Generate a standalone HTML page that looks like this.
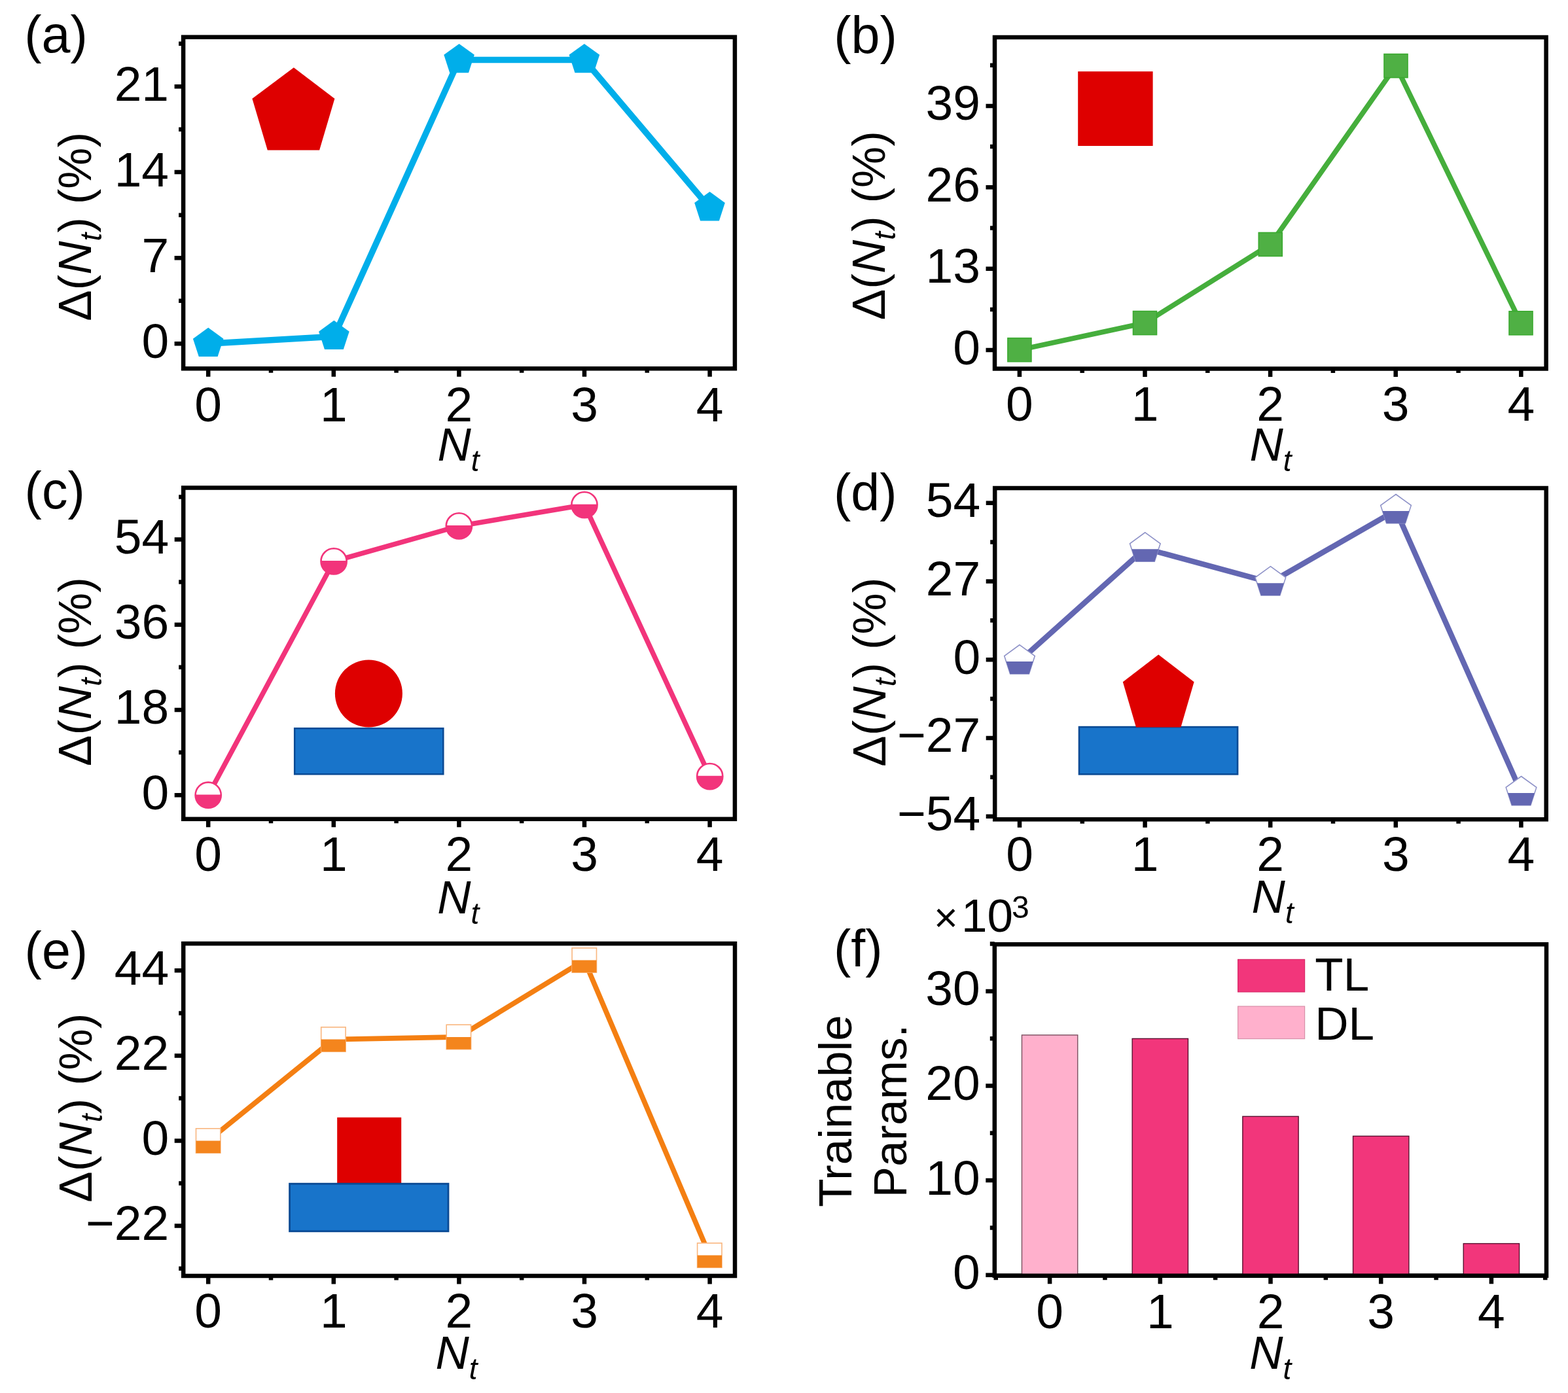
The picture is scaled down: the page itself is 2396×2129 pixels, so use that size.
<!DOCTYPE html>
<html><head><meta charset="utf-8"><title>Figure</title>
<style>html,body{margin:0;padding:0;background:#fff;}svg{display:block;}</style>
</head><body>
<svg width="2396" height="2129" viewBox="0 0 2396 2129"><rect width="2396" height="2129" fill="#fff"/>
<g font-family="'Liberation Sans', Arial, sans-serif" fill="#000">
<rect x="280.1" y="56.7" width="842.8" height="506.6" fill="none" stroke="#000" stroke-width="6.5"/>
<text x="258.1" y="153.7" font-size="75" text-anchor="end">21</text>
<text x="258.1" y="284.6" font-size="75" text-anchor="end">14</text>
<text x="258.1" y="415.7" font-size="75" text-anchor="end">7</text>
<text x="258.1" y="546.8" font-size="75" text-anchor="end">0</text>
<path d="M266.6,132.2H280.1 M266.6,263.1H280.1 M266.6,394.2H280.1 M266.6,525.3H280.1 M273.1,459.75H280.1 M273.1,328.65H280.1 M273.1,197.65H280.1 M273.1,66.69H280.1" stroke="#000" stroke-width="6.5" fill="none"/>
<text x="318.2" y="643.6" font-size="75" text-anchor="middle">0</text>
<text x="509.8" y="643.6" font-size="75" text-anchor="middle">1</text>
<text x="701.4" y="643.6" font-size="75" text-anchor="middle">2</text>
<text x="893" y="643.6" font-size="75" text-anchor="middle">3</text>
<text x="1084.6" y="643.6" font-size="75" text-anchor="middle">4</text>
<path d="M318.2,563.3V575.8 M509.8,563.3V575.8 M701.4,563.3V575.8 M893,563.3V575.8 M1084.6,563.3V575.8 M414,563.3V569.8 M605.6,563.3V569.8 M797.2,563.3V569.8 M988.8,563.3V569.8" stroke="#000" stroke-width="6.5" fill="none"/>
<text x="668.4" y="703.9" font-size="71" font-style="italic">N<tspan font-size="46" dy="16">t</tspan></text>
<text transform="translate(138.9,490.83) rotate(-90)" font-size="71">&#916;(<tspan font-style="italic">N</tspan><tspan font-style="italic" font-size="46" dy="16">t</tspan><tspan dy="-16">) (%)</tspan></text>
<text x="37.2" y="80.2" font-size="79" text-anchor="start">(a)</text>
<polygon points="448.9,103.2 511.4,150.8 488.1,229.6 408.8,229.6 385.4,150.8" fill="#DE0000"/>
<polyline points="318.2,525.3 510.4,514.3 701.6,91.4 892.9,91.4 1084.5,317.6" fill="none" stroke="#00AEEA" stroke-width="9.5" stroke-linejoin="miter"/>
<polygon points="318.2,500.8 341.5,517.73 332.6,545.12 303.8,545.12 294.9,517.73" fill="#00AEEA"/>
<polygon points="510.4,489.8 533.7,506.73 524.8,534.12 496,534.12 487.1,506.73" fill="#00AEEA"/>
<polygon points="701.6,66.9 724.9,83.83 716,111.22 687.2,111.22 678.3,83.83" fill="#00AEEA"/>
<polygon points="892.9,66.9 916.2,83.83 907.3,111.22 878.5,111.22 869.6,83.83" fill="#00AEEA"/>
<polygon points="1084.5,293.1 1107.8,310.03 1098.9,337.42 1070.1,337.42 1061.2,310.03" fill="#00AEEA"/>
<rect x="1520" y="57" width="842.6" height="506.5" fill="none" stroke="#000" stroke-width="6.5"/>
<text x="1498" y="183.4" font-size="75" text-anchor="end">39</text>
<text x="1498" y="307.8" font-size="75" text-anchor="end">26</text>
<text x="1498" y="432.2" font-size="75" text-anchor="end">13</text>
<text x="1498" y="556.6" font-size="75" text-anchor="end">0</text>
<path d="M1506.5,161.9H1520 M1506.5,286.3H1520 M1506.5,410.7H1520 M1506.5,535.1H1520 M1513,99.7H1520 M1513,224.1H1520 M1513,348.5H1520 M1513,472.9H1520" stroke="#000" stroke-width="6.5" fill="none"/>
<text x="1557.9" y="642.7" font-size="75" text-anchor="middle">0</text>
<text x="1749.5" y="642.7" font-size="75" text-anchor="middle">1</text>
<text x="1941.1" y="642.7" font-size="75" text-anchor="middle">2</text>
<text x="2132.7" y="642.7" font-size="75" text-anchor="middle">3</text>
<text x="2324.3" y="642.7" font-size="75" text-anchor="middle">4</text>
<path d="M1557.9,563.5V576 M1749.5,563.5V576 M1941.1,563.5V576 M2132.7,563.5V576 M2324.3,563.5V576 M1653.7,563.5V570 M1845.3,563.5V570 M2036.9,563.5V570 M2228.5,563.5V570" stroke="#000" stroke-width="6.5" fill="none"/>
<text x="1909.5" y="703.5" font-size="71" font-style="italic">N<tspan font-size="46" dy="16">t</tspan></text>
<text transform="translate(1351.8,489.13) rotate(-90)" font-size="71">&#916;(<tspan font-style="italic">N</tspan><tspan font-style="italic" font-size="46" dy="16">t</tspan><tspan dy="-16">) (%)</tspan></text>
<text x="1274.3" y="80.6" font-size="79" text-anchor="start">(b)</text>
<rect x="1647.2" y="109.2" width="114.4" height="113.8" fill="#DE0000"/>
<polyline points="1557.9,534.7 1749.5,493.6 1941.3,373.5 2133,100.6 2324,493.8" fill="none" stroke="#45AE3C" stroke-width="7.8" stroke-linejoin="miter"/>
<rect x="1539.9" y="516.7" width="36" height="36" fill="#4FB044" stroke="#3BAA30" stroke-width="1.6"/>
<rect x="1731.5" y="475.6" width="36" height="36" fill="#4FB044" stroke="#3BAA30" stroke-width="1.6"/>
<rect x="1923.3" y="355.5" width="36" height="36" fill="#4FB044" stroke="#3BAA30" stroke-width="1.6"/>
<rect x="2115" y="82.6" width="36" height="36" fill="#4FB044" stroke="#3BAA30" stroke-width="1.6"/>
<rect x="2306" y="475.8" width="36" height="36" fill="#4FB044" stroke="#3BAA30" stroke-width="1.6"/>
<rect x="280.2" y="745.5" width="842.7" height="506.3" fill="none" stroke="#000" stroke-width="6.5"/>
<text x="258.2" y="846" font-size="75" text-anchor="end">54</text>
<text x="258.2" y="976.2" font-size="75" text-anchor="end">36</text>
<text x="258.2" y="1106.4" font-size="75" text-anchor="end">18</text>
<text x="258.2" y="1236.7" font-size="75" text-anchor="end">0</text>
<path d="M266.7,824.5H280.2 M266.7,954.7H280.2 M266.7,1084.9H280.2 M266.7,1215.2H280.2 M273.2,759.4H280.2 M273.2,889.6H280.2 M273.2,1019.8H280.2 M273.2,1150.05H280.2" stroke="#000" stroke-width="6.5" fill="none"/>
<text x="318.2" y="1330.5" font-size="75" text-anchor="middle">0</text>
<text x="509.8" y="1330.5" font-size="75" text-anchor="middle">1</text>
<text x="701.4" y="1330.5" font-size="75" text-anchor="middle">2</text>
<text x="893" y="1330.5" font-size="75" text-anchor="middle">3</text>
<text x="1084.6" y="1330.5" font-size="75" text-anchor="middle">4</text>
<path d="M318.2,1251.8V1264.3 M509.8,1251.8V1264.3 M701.4,1251.8V1264.3 M893,1251.8V1264.3 M1084.6,1251.8V1264.3 M414,1251.8V1258.3 M605.6,1251.8V1258.3 M797.2,1251.8V1258.3 M988.8,1251.8V1258.3" stroke="#000" stroke-width="6.5" fill="none"/>
<text x="668.2" y="1395.7" font-size="71" font-style="italic">N<tspan font-size="46" dy="16">t</tspan></text>
<text transform="translate(139,1171.03) rotate(-90)" font-size="71">&#916;(<tspan font-style="italic">N</tspan><tspan font-style="italic" font-size="46" dy="16">t</tspan><tspan dy="-16">) (%)</tspan></text>
<text x="37.6" y="776.8" font-size="79" text-anchor="start">(c)</text>
<rect x="450.2" y="1113.2" width="227.1" height="70" fill="#1874CA" stroke="#0A4A94" stroke-width="2.5"/>
<circle cx="563.4" cy="1060" r="51.5" fill="#DE0000"/>
<polyline points="318.2,1215.2 510.1,857.9 701.4,803.9 893,771.6 1084.7,1186.6" fill="none" stroke="#F2347B" stroke-width="7.6" stroke-linejoin="miter"/>
<clipPath id="c64"><rect x="258.2" y="1214.4" width="120" height="60"/></clipPath>
<circle cx="318.2" cy="1215.2" r="19.6" fill="#fff" stroke="#F2347B" stroke-width="2.6"/>
<circle cx="318.2" cy="1215.2" r="19.6" fill="#F2347B" clip-path="url(#c64)"/>
<clipPath id="c67"><rect x="450.1" y="857.1" width="120" height="60"/></clipPath>
<circle cx="510.1" cy="857.9" r="19.6" fill="#fff" stroke="#F2347B" stroke-width="2.6"/>
<circle cx="510.1" cy="857.9" r="19.6" fill="#F2347B" clip-path="url(#c67)"/>
<clipPath id="c70"><rect x="641.4" y="803.1" width="120" height="60"/></clipPath>
<circle cx="701.4" cy="803.9" r="19.6" fill="#fff" stroke="#F2347B" stroke-width="2.6"/>
<circle cx="701.4" cy="803.9" r="19.6" fill="#F2347B" clip-path="url(#c70)"/>
<clipPath id="c73"><rect x="833" y="770.8" width="120" height="60"/></clipPath>
<circle cx="893" cy="771.6" r="19.6" fill="#fff" stroke="#F2347B" stroke-width="2.6"/>
<circle cx="893" cy="771.6" r="19.6" fill="#F2347B" clip-path="url(#c73)"/>
<clipPath id="c76"><rect x="1024.7" y="1185.8" width="120" height="60"/></clipPath>
<circle cx="1084.7" cy="1186.6" r="19.6" fill="#fff" stroke="#F2347B" stroke-width="2.6"/>
<circle cx="1084.7" cy="1186.6" r="19.6" fill="#F2347B" clip-path="url(#c76)"/>
<rect x="1520.2" y="746" width="842.5" height="506.3" fill="none" stroke="#000" stroke-width="6.5"/>
<text x="1498.2" y="790.2" font-size="75" text-anchor="end">54</text>
<text x="1498.2" y="909.9" font-size="75" text-anchor="end">27</text>
<text x="1498.2" y="1029.7" font-size="75" text-anchor="end">0</text>
<text x="1498.2" y="1149.4" font-size="75" text-anchor="end">&#8722;27</text>
<text x="1498.2" y="1269.2" font-size="75" text-anchor="end">&#8722;54</text>
<path d="M1506.7,768.7H1520.2 M1506.7,888.4H1520.2 M1506.7,1008.2H1520.2 M1506.7,1127.9H1520.2 M1506.7,1247.7H1520.2 M1513.2,828.55H1520.2 M1513.2,948.3H1520.2 M1513.2,1068.05H1520.2 M1513.2,1187.8H1520.2" stroke="#000" stroke-width="6.5" fill="none"/>
<text x="1558" y="1330.5" font-size="75" text-anchor="middle">0</text>
<text x="1749.6" y="1330.5" font-size="75" text-anchor="middle">1</text>
<text x="1941.2" y="1330.5" font-size="75" text-anchor="middle">2</text>
<text x="2132.8" y="1330.5" font-size="75" text-anchor="middle">3</text>
<text x="2324.4" y="1330.5" font-size="75" text-anchor="middle">4</text>
<path d="M1558,1252.3V1264.8 M1749.6,1252.3V1264.8 M1941.2,1252.3V1264.8 M2132.8,1252.3V1264.8 M2324.4,1252.3V1264.8 M1653.8,1252.3V1258.8 M1845.4,1252.3V1258.8 M2037,1252.3V1258.8 M2228.6,1252.3V1258.8" stroke="#000" stroke-width="6.5" fill="none"/>
<text x="1912.6" y="1394.8" font-size="71" font-style="italic">N<tspan font-size="46" dy="16">t</tspan></text>
<text transform="translate(1352.6,1171.63) rotate(-90)" font-size="71">&#916;(<tspan font-style="italic">N</tspan><tspan font-style="italic" font-size="46" dy="16">t</tspan><tspan dy="-16">) (%)</tspan></text>
<text x="1273.9" y="779.9" font-size="79" text-anchor="start">(d)</text>
<rect x="1649" y="1111.1" width="242.1" height="72.2" fill="#1874CA" stroke="#0A4A94" stroke-width="2.6"/>
<polygon points="1770.2,1000.5 1824.6,1042.3 1804.4,1111.5 1736,1111.5 1715.8,1042.3" fill="#DE0000"/>
<polyline points="1558,1010.1 1749.8,838.3 1941.4,890.2 2133,780 2324.5,1211" fill="none" stroke="#6367B2" stroke-width="8.4" stroke-linejoin="miter"/>
<clipPath id="c98"><rect x="1498" y="1011.1" width="120" height="60"/></clipPath>
<polygon points="1558,985.6 1581.3,1002.53 1572.4,1029.92 1543.6,1029.92 1534.7,1002.53" fill="#fff" stroke="#8E92C8" stroke-width="1.6"/>
<polygon points="1558,985.6 1581.3,1002.53 1572.4,1029.92 1543.6,1029.92 1534.7,1002.53" fill="#6367B2" clip-path="url(#c98)"/>
<clipPath id="c101"><rect x="1689.8" y="839.3" width="120" height="60"/></clipPath>
<polygon points="1749.8,813.8 1773.1,830.73 1764.2,858.12 1735.4,858.12 1726.5,830.73" fill="#fff" stroke="#8E92C8" stroke-width="1.6"/>
<polygon points="1749.8,813.8 1773.1,830.73 1764.2,858.12 1735.4,858.12 1726.5,830.73" fill="#6367B2" clip-path="url(#c101)"/>
<clipPath id="c104"><rect x="1881.4" y="891.2" width="120" height="60"/></clipPath>
<polygon points="1941.4,865.7 1964.7,882.63 1955.8,910.02 1927,910.02 1918.1,882.63" fill="#fff" stroke="#8E92C8" stroke-width="1.6"/>
<polygon points="1941.4,865.7 1964.7,882.63 1955.8,910.02 1927,910.02 1918.1,882.63" fill="#6367B2" clip-path="url(#c104)"/>
<clipPath id="c107"><rect x="2073" y="781" width="120" height="60"/></clipPath>
<polygon points="2133,755.5 2156.3,772.43 2147.4,799.82 2118.6,799.82 2109.7,772.43" fill="#fff" stroke="#8E92C8" stroke-width="1.6"/>
<polygon points="2133,755.5 2156.3,772.43 2147.4,799.82 2118.6,799.82 2109.7,772.43" fill="#6367B2" clip-path="url(#c107)"/>
<clipPath id="c110"><rect x="2264.5" y="1212" width="120" height="60"/></clipPath>
<polygon points="2324.5,1186.5 2347.8,1203.43 2338.9,1230.82 2310.1,1230.82 2301.2,1203.43" fill="#fff" stroke="#8E92C8" stroke-width="1.6"/>
<polygon points="2324.5,1186.5 2347.8,1203.43 2338.9,1230.82 2310.1,1230.82 2301.2,1203.43" fill="#6367B2" clip-path="url(#c110)"/>
<rect x="280.2" y="1442.1" width="842.8" height="507.9" fill="none" stroke="#000" stroke-width="6.5"/>
<text x="258.2" y="1504.8" font-size="75" text-anchor="end">44</text>
<text x="258.2" y="1635" font-size="75" text-anchor="end">22</text>
<text x="258.2" y="1764.9" font-size="75" text-anchor="end">0</text>
<text x="258.2" y="1895.1" font-size="75" text-anchor="end">&#8722;22</text>
<path d="M266.7,1483.3H280.2 M266.7,1613.5H280.2 M266.7,1743.4H280.2 M266.7,1873.6H280.2 M273.2,1548.4H280.2 M273.2,1678.45H280.2 M273.2,1808.5H280.2 M273.2,1938.7H280.2" stroke="#000" stroke-width="6.5" fill="none"/>
<text x="318.2" y="2028.9" font-size="75" text-anchor="middle">0</text>
<text x="509.8" y="2028.9" font-size="75" text-anchor="middle">1</text>
<text x="701.4" y="2028.9" font-size="75" text-anchor="middle">2</text>
<text x="893" y="2028.9" font-size="75" text-anchor="middle">3</text>
<text x="1084.6" y="2028.9" font-size="75" text-anchor="middle">4</text>
<path d="M318.2,1950V1962.5 M509.8,1950V1962.5 M701.4,1950V1962.5 M893,1950V1962.5 M1084.6,1950V1962.5 M414,1950V1956.5 M605.6,1950V1956.5 M797.2,1950V1956.5 M988.8,1950V1956.5" stroke="#000" stroke-width="6.5" fill="none"/>
<text x="665.4" y="2091.9" font-size="71" font-style="italic">N<tspan font-size="46" dy="16">t</tspan></text>
<text transform="translate(139.8,1837.63) rotate(-90)" font-size="71">&#916;(<tspan font-style="italic">N</tspan><tspan font-style="italic" font-size="46" dy="16">t</tspan><tspan dy="-16">) (%)</tspan></text>
<text x="37.6" y="1479.5" font-size="79" text-anchor="start">(e)</text>
<rect x="515.2" y="1707.8" width="98" height="101" fill="#DE0000"/>
<rect x="442.6" y="1809.2" width="242.4" height="72.6" fill="#1874CA" stroke="#0A4A94" stroke-width="2.8"/>
<polyline points="318.2,1743.5 509.4,1588.6 700.9,1584.9 892.8,1467.6 1084.3,1918.6" fill="none" stroke="#F47F12" stroke-width="7.8" stroke-linejoin="miter"/>
<clipPath id="c131"><rect x="258.2" y="1743.5" width="120" height="60"/></clipPath>
<rect x="299.5" y="1724.8" width="37.4" height="37.4" fill="#fff" stroke="#F9B67E" stroke-width="1.6"/>
<rect x="299.5" y="1724.8" width="37.4" height="37.4" fill="#F4851D" clip-path="url(#c131)"/>
<clipPath id="c134"><rect x="449.4" y="1588.6" width="120" height="60"/></clipPath>
<rect x="490.7" y="1569.9" width="37.4" height="37.4" fill="#fff" stroke="#F9B67E" stroke-width="1.6"/>
<rect x="490.7" y="1569.9" width="37.4" height="37.4" fill="#F4851D" clip-path="url(#c134)"/>
<clipPath id="c137"><rect x="640.9" y="1584.9" width="120" height="60"/></clipPath>
<rect x="682.2" y="1566.2" width="37.4" height="37.4" fill="#fff" stroke="#F9B67E" stroke-width="1.6"/>
<rect x="682.2" y="1566.2" width="37.4" height="37.4" fill="#F4851D" clip-path="url(#c137)"/>
<clipPath id="c140"><rect x="832.8" y="1467.6" width="120" height="60"/></clipPath>
<rect x="874.1" y="1448.9" width="37.4" height="37.4" fill="#fff" stroke="#F9B67E" stroke-width="1.6"/>
<rect x="874.1" y="1448.9" width="37.4" height="37.4" fill="#F4851D" clip-path="url(#c140)"/>
<clipPath id="c143"><rect x="1024.3" y="1918.6" width="120" height="60"/></clipPath>
<rect x="1065.6" y="1899.9" width="37.4" height="37.4" fill="#fff" stroke="#F9B67E" stroke-width="1.6"/>
<rect x="1065.6" y="1899.9" width="37.4" height="37.4" fill="#F4851D" clip-path="url(#c143)"/>
<rect x="1519.8" y="1443.3" width="843.2" height="506.5" fill="none" stroke="#000" stroke-width="6.5"/>
<text x="1497.8" y="1536.4" font-size="75" text-anchor="end">30</text>
<text x="1497.8" y="1681" font-size="75" text-anchor="end">20</text>
<text x="1497.8" y="1825.6" font-size="75" text-anchor="end">10</text>
<text x="1497.8" y="1970.3" font-size="75" text-anchor="end">0</text>
<path d="M1506.3,1514.9H1519.8 M1506.3,1659.5H1519.8 M1506.3,1804.1H1519.8 M1506.3,1948.8H1519.8 M1512.8,1442.6H1519.8 M1512.8,1587.2H1519.8 M1512.8,1731.8H1519.8 M1512.8,1876.45H1519.8" stroke="#000" stroke-width="6.5" fill="none"/>
<text x="1604.1" y="2029.8" font-size="75" text-anchor="middle">0</text>
<text x="1772.8" y="2029.8" font-size="75" text-anchor="middle">1</text>
<text x="1941.5" y="2029.8" font-size="75" text-anchor="middle">2</text>
<text x="2110.2" y="2029.8" font-size="75" text-anchor="middle">3</text>
<text x="2278.9" y="2029.8" font-size="75" text-anchor="middle">4</text>
<path d="M1604.1,1949.8V1962.3 M1772.8,1949.8V1962.3 M1941.5,1949.8V1962.3 M2110.2,1949.8V1962.3 M2278.9,1949.8V1962.3 M1521.75,1949.8V1956.3 M1688.45,1949.8V1956.3 M1857.15,1949.8V1956.3 M2025.85,1949.8V1956.3 M2194.55,1949.8V1956.3 M2361.25,1949.8V1956.3" stroke="#000" stroke-width="6.5" fill="none"/>
<text x="1909.3" y="2091.9" font-size="71" font-style="italic">N<tspan font-size="46" dy="16">t</tspan></text>
<text x="1273.9" y="1477.2" font-size="79" text-anchor="start">(f)</text>
<text transform="translate(1300.8,1698) rotate(-90)" font-size="71" text-anchor="middle">Trainable</text>
<text transform="translate(1384.5,1698) rotate(-90)" font-size="71" text-anchor="middle">Params.</text>
<text x="1426.9" y="1424.2" font-size="63" text-anchor="start">&#215;</text>
<text x="1469" y="1423.5" font-size="71" text-anchor="start">10</text>
<text x="1546" y="1402.5" font-size="48" text-anchor="start">3</text>
<rect x="1561.45" y="1581.9" width="85.3" height="367.9" fill="#FFB0CC" stroke="#7A5060" stroke-width="1.4"/>
<rect x="1730.15" y="1587.4" width="85.3" height="362.4" fill="#F2367B" stroke="#5A1030" stroke-width="1.4"/>
<rect x="1898.85" y="1706.3" width="85.3" height="243.5" fill="#F2367B" stroke="#5A1030" stroke-width="1.4"/>
<rect x="2067.55" y="1736.4" width="85.3" height="213.4" fill="#F2367B" stroke="#5A1030" stroke-width="1.4"/>
<rect x="2236.25" y="1900.6" width="85.3" height="49.2" fill="#F2367B" stroke="#5A1030" stroke-width="1.4"/>
<rect x="1891.6" y="1466.4" width="102" height="49.6" fill="#F2367B" stroke="#D82A68" stroke-width="1.2"/>
<rect x="1891.6" y="1538" width="102" height="49.6" fill="#FFB0CC" stroke="#D890A8" stroke-width="1.2"/>
<text x="2009.3" y="1514" font-size="71" text-anchor="start">TL</text>
<text x="2009.3" y="1588.5" font-size="71" text-anchor="start">DL</text>
<path d="M1519.8,1949.8H2363" stroke="#000" stroke-width="6.5"/>
</g></svg>
</body></html>
